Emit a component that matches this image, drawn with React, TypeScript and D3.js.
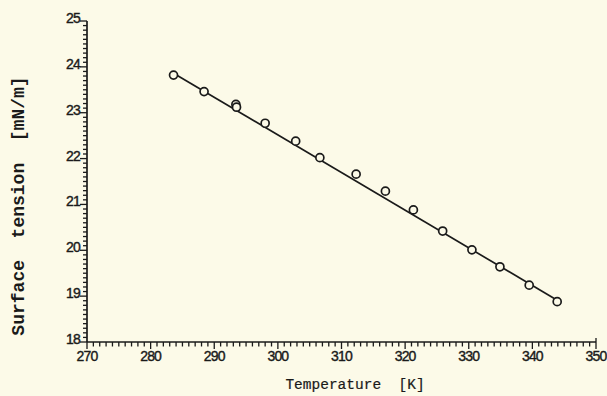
import React from "react";
import * as d3 from "d3";

const temperatures = [283.6, 288.4, 293.4, 293.5, 298.0, 302.8, 306.6, 312.3, 316.9, 321.3, 325.9, 330.5, 334.9, 339.5, 343.9];
const tensions = [23.82, 23.46, 23.18, 23.12, 22.77, 22.38, 22.02, 21.66, 21.29, 20.88, 20.42, 20.01, 19.64, 19.24, 18.88];
const fitT = [283.6, 344.3];
const fitY = [23.86, 18.88];
const xTicks = [270, 280, 290, 300, 310, 320, 330, 340, 350];
const yTicks = [18, 19, 20, 21, 22, 23, 24, 25];

const W = 607, H = 396;
const x = d3.scaleLinear().domain([270, 350]).range([87, 596]);
const y = d3.scaleLinear().domain([18, 25]).range([342, 21]);

export default function App() {
  const ink = "#1a1a1a";
  const bg = "#fcfae8";
  const xMinor = d3.range(270, 351, 1);
  const yMinor = d3.range(180, 251, 1).map((v) => v / 10);
  const line = d3.line<number>().x((d, i) => x(fitT[i])).y((d, i) => y(fitY[i]));
  return (
    <svg width={W} height={H} style={{ position: "absolute", left: 0, top: 0, background: bg }}>
      <rect x={0} y={0} width={W} height={H} fill={bg} />
      {/* axes */}
      <line x1={x(270)} x2={x(350)} y1={y(18)} y2={y(18)} stroke={ink} strokeWidth={1.7} />
      <line x1={x(270)} x2={x(270)} y1={y(18)} y2={y(25)} stroke={ink} strokeWidth={1.7} />
      {xMinor.map((t) => (
        <line key={"xm" + t} x1={x(t)} x2={x(t)} y1={y(18)} y2={y(18) + (t % 10 === 0 ? 7 : 4.5)} stroke={ink} strokeWidth={1.3} />
      ))}
      <line x1={x(350)} x2={x(350)} y1={y(18)} y2={y(18) - 4} stroke={ink} strokeWidth={1.3} />
      {yMinor.map((v) => (
        <line key={"ym" + v} x1={x(270)} x2={x(270) - (Math.abs(v - Math.round(v)) < 1e-6 ? 7 : 4)} y1={y(v)} y2={y(v)} stroke={ink} strokeWidth={1.3} />
      ))}
      {xTicks.map((t) => (
        <text key={"xt" + t} x={x(t)} y={y(18) + 19} textAnchor="middle" fontFamily="Liberation Sans, Arial, sans-serif" fontSize={14} fill={ink} stroke={ink} strokeWidth={0.4} letterSpacing={-0.8}>
          {t}
        </text>
      ))}
      {yTicks.map((v) => (
        <text key={"yt" + v} x={x(270) - 7} y={y(v) + 2} textAnchor="end" fontFamily="Liberation Sans, Arial, sans-serif" fontSize={14} fill={ink} stroke={ink} strokeWidth={0.4} letterSpacing={-0.8}>
          {v}
        </text>
      ))}
      {/* titles */}
      <text x={355} y={389} textAnchor="middle" fontFamily="Liberation Mono, Courier New, monospace" fontSize={14.5} fill={ink} stroke={ink} strokeWidth={0.2} xmlSpace="preserve">
        {"Temperature  [K]"}
      </text>
      <text transform={`translate(24,${206}) rotate(-90)`} textAnchor="middle" fontFamily="Liberation Mono, Courier New, monospace" fontWeight="bold" fontSize={18} fill={ink} xmlSpace="preserve">
        {"Surface  tension  [mN/m]"}
      </text>
      {/* fit line */}
      <path d={line(fitT) || ""} fill="none" stroke={ink} strokeWidth={1.7} />
      {/* data points */}
      {temperatures.map((t, i) => (
        <circle key={"p" + i} cx={x(t)} cy={y(tensions[i])} r={4} fill={bg} stroke={ink} strokeWidth={1.7} />
      ))}
    </svg>
  );
}
